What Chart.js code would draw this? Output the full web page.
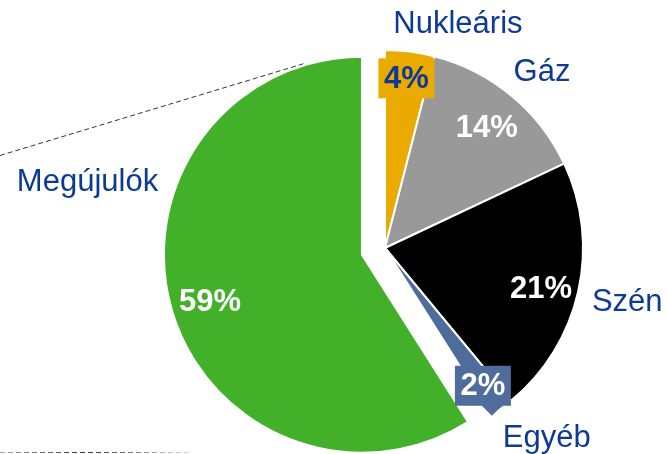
<!DOCTYPE html>
<html lang="hu">
<head>
<meta charset="utf-8">
<title>Villamosenergia-mix</title>
<script src="https://cdn.jsdelivr.net/npm/chart.js@4.4.1/dist/chart.umd.min.js"></script>
<style>
    html, body { margin: 0; padding: 0; background: #fff; }
    #doboz { width: 667px; height: 454px; position: relative; }
</style>
</head>
<body>
<div id="doboz"><canvas id="mixChart"></canvas></div>
<script>
/* Adatok */
const kategoriak = ['Nukleáris', 'Gáz', 'Szén', 'Egyéb', 'Megújulók'];
const aranyok = [4, 14, 21, 2, 59];

const szinek = ['#EAAA00', '#999999', '#000000', '#4E6D9C', '#43B02A'];
const sugar = 198;
const kiemeles = [0, 0, 0, 0, 96];   // Chart.js v4 a negyedével tolja el

// feliratok helye: sugár (px) és szögeltolás (fok) a szelet közepéhez képest
const szazalekHely = [[171, 0], [158, 0.5], [161, 1.8], [169, 0.6], [159, -1]];
const nevHely = [[236, 10.8], [236, 2.1], [248, -0.2], [249, -4.5], [284, 31.1]];

const kekSzoveg = '#0C3A94';

function szeletKozep(arc) {
    const off = (arc.options.offset || 0) / 4;
    const mid = (arc.startAngle + arc.endAngle) / 2;
    return { x: arc.x + Math.cos(mid) * off, y: arc.y + Math.sin(mid) * off, mid };
}

function pont(arc, hely) {
    const k = szeletKozep(arc);
    const a = k.mid + hely[1] * Math.PI / 180;
    return { x: k.x + Math.cos(a) * hely[0], y: k.y + Math.sin(a) * hely[0] };
}

const feliratok = {
    id: 'feliratok',
    beforeDatasetsDraw(chart) {
        const ctx = chart.ctx;
        // a kiemelt szelet ne legyen nagyobb a többinél, és ne is keskenyedjen
        chart.getDatasetMeta(0).data.forEach(arc => {
            const off = (arc.options.offset || 0) / 4;
            if (!off) return;
            const fix = 1 - Math.sin(Math.min(Math.PI, arc.circumference));
            arc.outerRadius = sugar - off * fix;
            const d = (off * fix / Math.PI) / sugar / 2;
            arc.startAngle -= d;
            arc.endAngle += d;
        });

        // szaggatott összekötő vonalak
        ctx.save();
        ctx.lineWidth = 1;
        ctx.setLineDash([5, 3]);
        ctx.strokeStyle = '#333333';
        ctx.beginPath();
        ctx.moveTo(0, 155.5);
        ctx.lineTo(306, 63);
        ctx.stroke();
        const grad = ctx.createLinearGradient(0, 0, 190, 0);
        grad.addColorStop(0, '#aaaaaa');
        grad.addColorStop(0.45, '#333333');
        grad.addColorStop(1, '#dddddd');
        ctx.strokeStyle = grad;
        ctx.beginPath();
        ctx.moveTo(0, 452.5);
        ctx.lineTo(190, 452.5);
        ctx.stroke();
        ctx.restore();
    },
    afterDatasetsDraw(chart) {
        const ctx = chart.ctx;
        const arcs = chart.getDatasetMeta(0).data;
        ctx.save();
        ctx.textAlign = 'center';
        ctx.textBaseline = 'middle';

        arcs.forEach((arc, i) => {
            const p = pont(arc, szazalekHely[i]);
            const szoveg = aranyok[i] + '%';

            // Nukleáris és Egyéb: címke háttérdobozzal
            if (i === 0 || i === 3) {
                ctx.fillStyle = szinek[i];
                ctx.fillRect(p.x - 28, p.y - 20, 56, 40);
                if (i === 3) {
                    ctx.beginPath();
                    ctx.moveTo(p.x - 2, p.y + 19);
                    ctx.lineTo(p.x + 20, p.y + 19);
                    ctx.lineTo(p.x + 9, p.y + 30);
                    ctx.closePath();
                    ctx.fill();
                }
            }

            ctx.font = 'bold 31px "Liberation Sans", Arial, sans-serif';
            ctx.fillStyle = i === 0 ? kekSzoveg : '#ffffff';
            ctx.fillText(szoveg, p.x, p.y + 1);

            const n = pont(arc, nevHely[i]);
            ctx.font = '31px "Liberation Sans", Arial, sans-serif';
            ctx.fillStyle = kekSzoveg;
            ctx.fillText(kategoriak[i], n.x, n.y + 1);
        });
        ctx.restore();
    }
};

new Chart(document.getElementById('mixChart'), {
    type: 'pie',
    data: {
        labels: kategoriak,
        datasets: [{
            data: aranyok,
            backgroundColor: szinek,
            borderColor: '#ffffff',
            borderWidth: 2,
            offset: kiemeles,
            hoverOffset: 0
        }]
    },
    options: {
        responsive: true,
        maintainAspectRatio: false,
        animation: false,
        radius: sugar,
        layout: {
            padding: { left: 103, top: 42, right: 0, bottom: 0 }
        },
        plugins: {
            legend: { display: false },
            tooltip: { enabled: false }
        }
    },
    plugins: [feliratok]
});
</script>
</body>
</html>
